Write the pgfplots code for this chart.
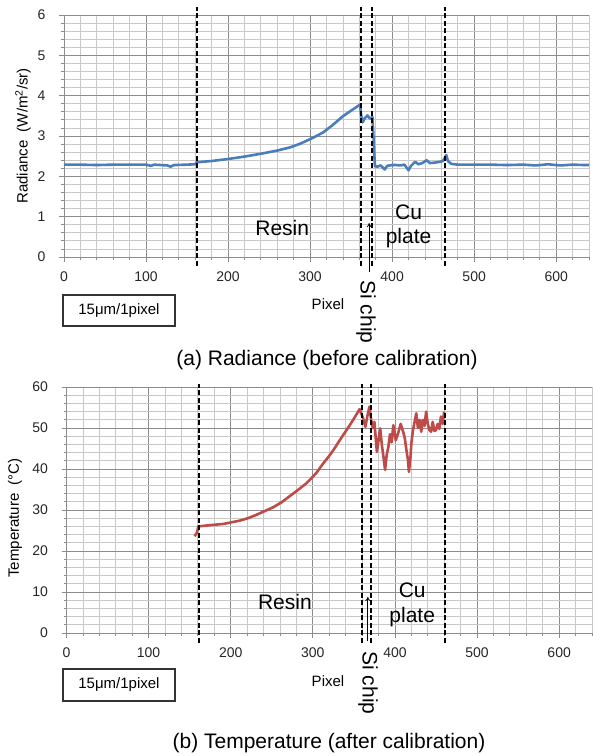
\documentclass[border=0pt]{standalone}
\usepackage{pgfplots}
\pgfplotsset{compat=1.18}
\usepackage{fontspec}
\setmainfont{Liberation Sans}
\usetikzlibrary{arrows.meta}
\definecolor{xlblue}{HTML}{4A7EBB}
\definecolor{xlred}{HTML}{BE4B48}
\definecolor{majgrid}{HTML}{8C8C8C}
\definecolor{mingrid}{HTML}{C8C8C8}
\tikzset{vdash/.style={black, line width=1.9, dash pattern=on 5pt off 2.5pt}}
\pgfplotsset{
  xlstyle/.style={
    scale only axis,
    axis x line=bottom, axis y line=left,
    axis line style={-, draw=majgrid, line width=0.8},
    tick align=outside,
    major tick length=5, minor tick length=3,
    tick style={draw=majgrid, line width=0.8},
    grid=both,
    major grid style={draw=majgrid, line width=0.8},
    minor grid style={draw=mingrid, line width=0.8},
    xmin=0, xmax=640,
    xtick={0,100,...,600},
    minor xtick={0,20,...,640},
    enlargelimits=false,
    clip=false,
    /pgf/number format/assume math mode=true,
    tick label style={font=\fontsize{14}{16}\selectfont, text=black!85},
    xticklabel style={yshift=-6pt},
    yticklabel style={xshift=-10pt},
  },
}
\begin{document}
\begin{tikzpicture}[x=1pt,y=1pt]
\useasboundingbox (0,0) rectangle (593,-756);
% ---------------- (a) Radiance ----------------
\begin{axis}[xlstyle,
  at={(64pt,-257pt)}, anchor=south west,
  width=525pt, height=242pt,
  ymin=0, ymax=6, ytick={0,1,...,6},
  minor ytick={0,0.2,...,6},
]
\addplot[xlblue, line width=2.6, line join=round] coordinates {
(0,2.29)(20,2.29)(40,2.28)(60,2.29)(80,2.29)(100,2.29)(106,2.26)(110,2.29)(126,2.27)(130,2.24)(134,2.28)(150,2.29)(160,2.30)(162,2.35)(180,2.38)(200,2.43)(220,2.49)(240,2.56)(260,2.64)(276,2.72)(288,2.81)(303,2.95)(316,3.09)(328,3.28)(340,3.49)(350,3.63)(361,3.78)(362,3.55)(364,3.34)(367,3.45)(370,3.51)(373,3.43)(376,3.47)(377,3.10)(379,2.25)(382,2.24)(386,2.27)(391,2.17)(394,2.26)(400,2.28)(405,2.28)(410,2.27)(415,2.29)(420,2.15)(423,2.26)(428,2.36)(432,2.30)(437,2.33)(442,2.40)(446,2.33)(452,2.34)(458,2.36)(462,2.38)(466,2.53)(468,2.38)(472,2.31)(480,2.29)(500,2.29)(520,2.29)(540,2.28)(560,2.29)(575,2.27)(590,2.30)(605,2.27)(620,2.29)(635,2.28)(640,2.28)
};
\draw[vdash] (axis cs:162,-0.22) -- (axis cs:162,6.2);
\draw[vdash] (axis cs:362,-0.22) -- (axis cs:362,6.2);
\draw[vdash] (axis cs:375,-0.22) -- (axis cs:375,6.2);
\draw[vdash] (axis cs:464,-0.22) -- (axis cs:464,6.2);
\draw[-{To[length=4pt,width=5pt]}, black, line width=0.8] (axis cs:372,-0.37) -- (axis cs:372,0.84);
\node[font=\fontsize{21}{24}\selectfont] at (axis cs:266,0.71) {Resin};
\node[font=\fontsize{21}{24}\selectfont] at (axis cs:420,1.12) {Cu};
\node[font=\fontsize{21}{24}\selectfont] at (axis cs:420,0.47) {plate};
\end{axis}
\node[rotate=90, font=\fontsize{15}{17}\selectfont] at (23,-136) {Radiance~~(W/m\textsuperscript{2}/sr)};
\node[font=\fontsize{15}{17}\selectfont] at (328,-304) {Pixel};
\node[rotate=-90, font=\fontsize{21}{24}\selectfont] at (366,-312) {Si chip};
\draw[black!80, line width=1.1] (63,-295) rectangle (175,-326);
\node[font=\fontsize{15}{17}\selectfont] at (119,-310.5) {15μm/1pixel};
\node[font=\fontsize{21}{24}\selectfont] at (327,-360) {(a) Radiance (before calibration)};
% ---------------- (b) Temperature ----------------
\begin{axis}[xlstyle,
  at={(66.5pt,-633pt)}, anchor=south west,
  width=525.5pt, height=246pt,
  ymin=0, ymax=60, ytick={0,10,...,60},
  minor ytick={0,2,...,60},
]
\addplot[xlred, line width=2.6, line join=round] coordinates {
(156,23.6)(159,24.5)(160.5,26.0)(170,26.2)(180,26.4)(191,26.6)(201,27.0)(211,27.4)(221,28.0)(231,28.8)(241,29.7)(252,30.7)(262,31.9)(272,33.4)(282,34.9)(292,36.5)(298,37.7)(304.5,39.1)(312,41.2)(320.7,43.4)(327,45.2)(333,47.1)(339,48.9)(345,50.7)(351,52.6)(357,54.6)(361,52.5)(364,50.3)(367,53.5)(369,55.2)(371,52.0)(373,50.0)(375,51.5)(378,44.2)(380,47.0)(382,49.9)(384,46.0)(386,43.0)(388,39.8)(390,43.5)(392,45.4)(394,48.5)(396,46.5)(398,50.7)(401,47.0)(404,48.8)(407,51.0)(410,49.1)(412,47.5)(414,44.6)(416,42.0)(417,39.3)(419,43.0)(420,46.3)(422,49.5)(424,51.5)(426,53.6)(428,50.0)(430,52.0)(432,49.1)(434,52.0)(436,50.5)(438,54.0)(440,51.0)(442,49.5)(444,49.1)(446,51.5)(448,49.3)(450,49.5)(452,51.0)(454,49.8)(456,52.8)(458,51.0)(460,54.0)
};
\draw[vdash] (axis cs:161,-2.4) -- (axis cs:161,60.7);
\draw[vdash] (axis cs:360,-2.4) -- (axis cs:360,60.7);
\draw[vdash] (axis cs:371,-2.4) -- (axis cs:371,60.7);
\draw[vdash] (axis cs:461,-2.4) -- (axis cs:461,60.7);
\draw[-{To[length=4pt,width=5pt]}, black, line width=0.8] (axis cs:367,-2.0) -- (axis cs:367,8.8);
\node[font=\fontsize{21}{24}\selectfont] at (axis cs:266,7.6) {Resin};
\node[font=\fontsize{21}{24}\selectfont] at (axis cs:421,10.5) {Cu};
\node[font=\fontsize{21}{24}\selectfont] at (axis cs:421,4.0) {plate};
\end{axis}
\node[rotate=90, font=\fontsize{15}{17}\selectfont] at (15,-518) {Temperature~~(°C)};
\node[font=\fontsize{15}{17}\selectfont] at (328,-681) {Pixel};
\node[rotate=-90, font=\fontsize{21}{24}\selectfont] at (368,-683) {Si chip};
\draw[black!80, line width=1.1] (63,-669) rectangle (175,-701);
\node[font=\fontsize{15}{17}\selectfont] at (119,-685) {15μm/1pixel};
\node[font=\fontsize{21}{24}\selectfont] at (329,-743) {(b) Temperature (after calibration)};
\end{tikzpicture}
\end{document}
